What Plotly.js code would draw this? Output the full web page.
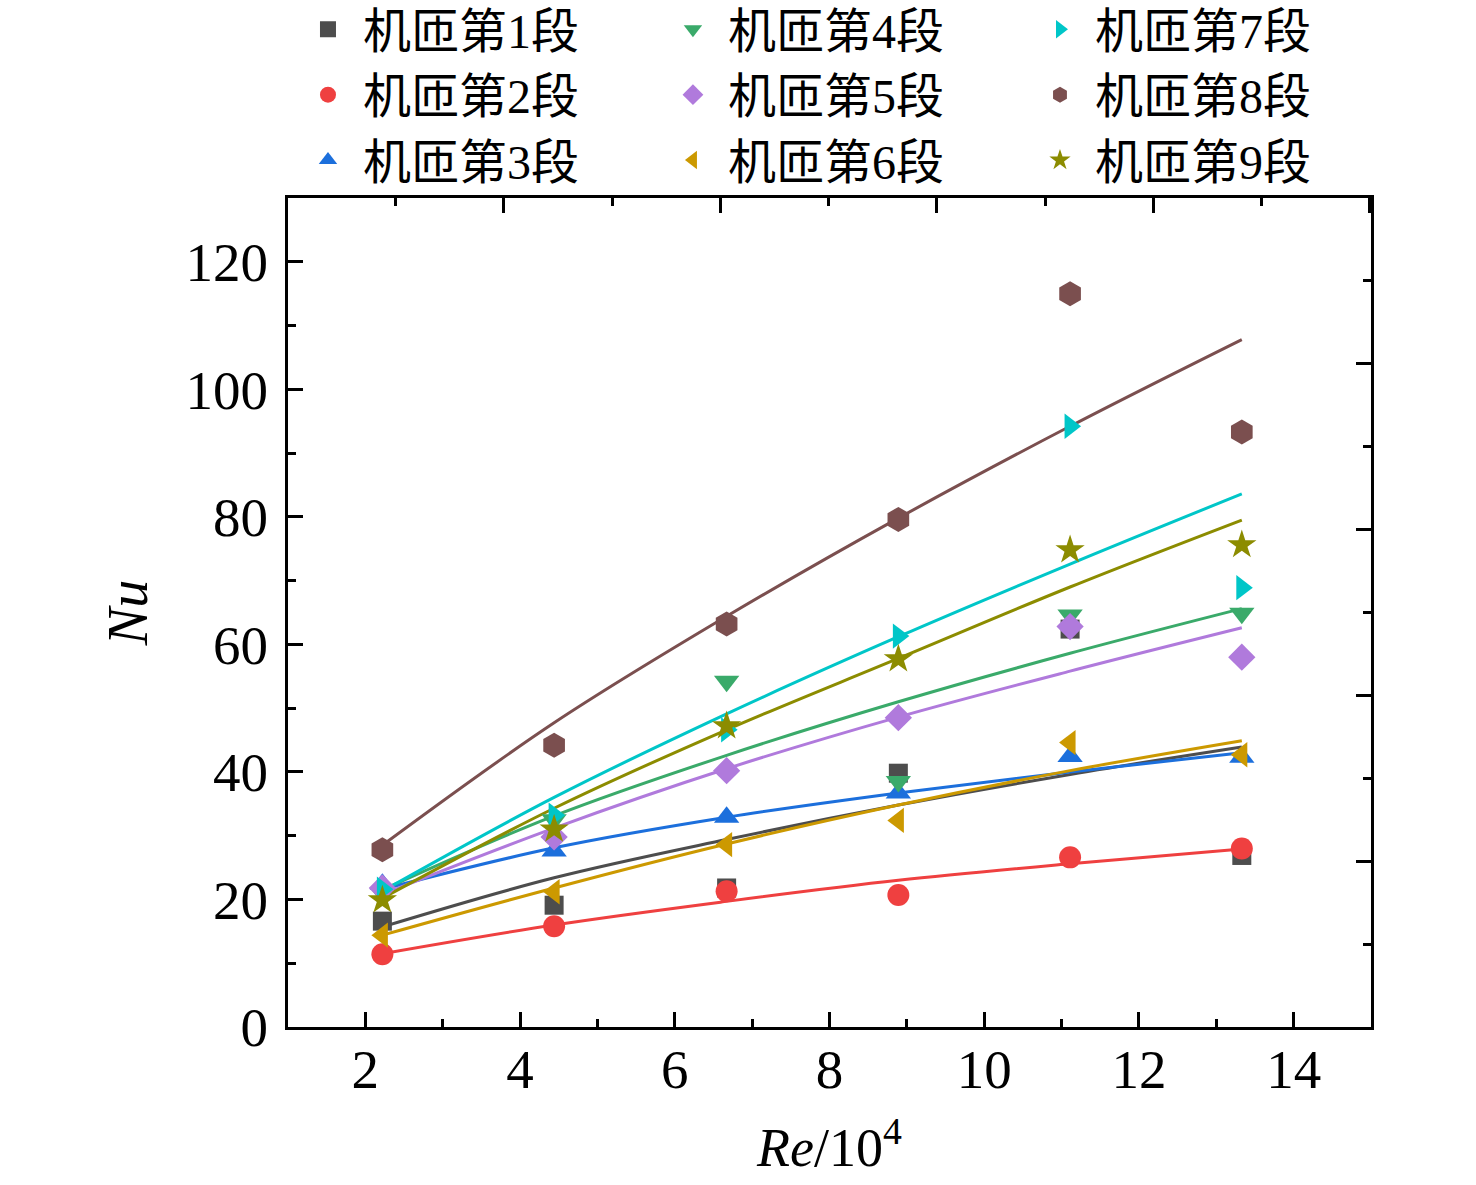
<!DOCTYPE html>
<html>
<head>
<meta charset="utf-8">
<script src="https://cdn.plot.ly/plotly-3.0.1.min.js"></script>
<style>html,body{margin:0;padding:0;background:#fff;}#chart{width:1476px;height:1185px;}</style>
</head>
<body>
<div id="chart"></div>
<script>
// Re/10^4 positions
const reValues = [2.22, 4.44, 6.67, 8.89, 11.11, 13.33];

// measured Nu per section
const nu1 = [16.6, 19.1, 21.8, 39.8, 62.4, 26.9];
const nu2 = [11.4, 15.8, 21.3, 20.7, 26.6, 28.0];
const nu3 = [22.4, 27.6, 32.9, 36.7, 42.4, 42.3];
const nu4 = [21.0, 32.5, 54.2, 38.5, 64.6, 64.9];
const nu5 = [21.8, 29.8, 40.2, 48.5, 62.8, 58.0];
const nu6 = [14.4, 21.2, 28.6, 32.4, 44.6, 42.7];
const nu7 = [21.6, 33.2, 46.6, 61.3, 94.2, 68.9];
const nu8 = [27.8, 44.2, 63.2, 79.6, 115.0, 93.3];
const nu9 = [19.9, 31.0, 47.2, 57.7, 74.8, 75.6];

// fitted curves
const fit1 = [15.7, 23.4, 29.4, 34.8, 39.6, 43.9];
const fit2 = [11.5, 16.0, 19.7, 23.0, 25.6, 27.9];
const fit3 = [21.6, 28.1, 32.9, 36.7, 40.0, 43.0];
const fit4 = [21.5, 33.1, 42.6, 51.0, 58.6, 65.6];
const fit5 = [20.8, 31.2, 40.5, 48.6, 55.8, 62.6];
const fit6 = [14.4, 21.8, 28.7, 34.8, 40.2, 44.9];
const fit7 = [21.3, 36.0, 49.1, 61.2, 72.6, 83.6];
const fit8 = [28.5, 47.7, 64.4, 79.8, 94.2, 107.8];
const fit9 = [20.2, 34.3, 46.6, 57.8, 69.0, 79.5];

const seriesNames = ['机匝第1段','机匝第2段','机匝第3段','机匝第4段','机匝第5段','机匝第6段','机匝第7段','机匝第8段','机匝第9段'];
const xTickVals = [2, 4, 6, 8, 10, 12, 14];
const yTickVals = [0, 20, 40, 60, 80, 100, 120];

const measured = [nu1, nu2, nu3, nu4, nu5, nu6, nu7, nu8, nu9];
const fits = [fit1, fit2, fit3, fit4, fit5, fit6, fit7, fit8, fit9];
const colors = ['#4d4d4d','#ef4040','#1c6fdc','#3aaa6a','#b07adc','#cc9900','#00c6c8','#7b4f4f','#8c8c00'];
const symbols = ['square','circle','triangle-up','triangle-down','diamond','triangle-left','triangle-right','hexagon','star'];
const sizes = [19, 22, 22, 22, 21, 22, 22, 25, 22];
const legendIds = ['legend','legend','legend','legend2','legend2','legend2','legend3','legend3','legend3'];

const traces = [];
fits.forEach((f, i) => {
  traces.push({
    x: reValues, y: f, mode: 'lines', type: 'scatter',
    line: {color: colors[i], width: 3, shape: 'spline'},
    showlegend: false, hoverinfo: 'skip'
  });
});
measured.forEach((m, i) => {
  traces.push({
    x: reValues, y: m, mode: 'markers', type: 'scatter', name: seriesNames[i],
    marker: {color: colors[i], symbol: symbols[i], size: sizes[i], line: {width: 0}},
    legend: legendIds[i]
  });
});
// empty trace so the mirrored top/right axes are drawn
traces.push({x: [], y: [], xaxis: 'x2', yaxis: 'y2', mode: 'markers', type: 'scatter', showlegend: false, hoverinfo: 'skip'});

const tickFont = {family: 'Liberation Serif, Times New Roman, serif', size: 55, color: '#000'};
const legFont = {family: 'Liberation Serif, Noto Sans CJK SC, serif', size: 48, color: '#000'};
function legendAt(x) {
  return {orientation: 'v', x: x, xanchor: 'left', y: 1.249, yanchor: 'top',
          itemwidth: 60, font: legFont, bgcolor: 'rgba(0,0,0,0)', borderwidth: 0, traceorder: 'normal'};
}
const layout = {
  width: 1476, height: 1185,
  margin: {l: 288, r: 105, t: 198, b: 158, autoexpand: false},
  paper_bgcolor: '#fff', plot_bgcolor: '#fff',
  showlegend: true,
  legend: legendAt(0.0046),
  legend2: legendAt(0.3416),
  legend3: legendAt(0.6805),
  xaxis: {
    range: [1, 15], tickvals: xTickVals, ticktext: xTickVals.map(String),
    ticks: 'inside', ticklen: 15, tickwidth: 3, tickcolor: '#000',
    minor: {dtick: 1, tick0: 1, ticks: 'inside', ticklen: 8, tickwidth: 3, tickcolor: '#000', showgrid: false},
    showline: true, linewidth: 3, linecolor: '#000', showgrid: false, zeroline: false,
    tickfont: tickFont, ticklabelstandoff: -8,
    title: {text: '<i>Re</i>/10<sup>4</sup>', font: {family: 'Liberation Serif, serif', size: 54, color: '#000'}, standoff: 30}
  },
  yaxis: {
    range: [0, 130], tickvals: yTickVals, ticktext: yTickVals.map(String),
    ticks: 'inside', ticklen: 15, tickwidth: 3, tickcolor: '#000',
    minor: {dtick: 10, tick0: 0, ticks: 'inside', ticklen: 8, tickwidth: 3, tickcolor: '#000', showgrid: false},
    showline: true, linewidth: 3, linecolor: '#000', showgrid: false, zeroline: false,
    tickfont: tickFont, ticklabelstandoff: 6,
    title: {text: '<i>Nu</i>', font: {family: 'Liberation Serif, serif', size: 56, color: '#000'}, standoff: 20}
  },
  xaxis2: {
    overlaying: 'x', side: 'top', range: [1, 15], anchor: 'y2',
    tick0: 3.791, dtick: 2.798, ticks: 'inside', ticklen: 15, tickwidth: 3, tickcolor: '#000',
    minor: {tick0: 2.392, dtick: 1.399, ticks: 'inside', ticklen: 8, tickwidth: 3, tickcolor: '#000', showgrid: false},
    showticklabels: false, showline: true, linewidth: 3, linecolor: '#000', showgrid: false, zeroline: false
  },
  yaxis2: {
    overlaying: 'y', side: 'right', range: [0, 130], anchor: 'x2',
    tick0: 0, dtick: 26, ticks: 'inside', ticklen: 15, tickwidth: 3, tickcolor: '#000',
    minor: {tick0: 13, dtick: 13, ticks: 'inside', ticklen: 8, tickwidth: 3, tickcolor: '#000', showgrid: false},
    showticklabels: false, showline: true, linewidth: 3, linecolor: '#000', showgrid: false, zeroline: false
  }
};

Plotly.newPlot('chart', traces, layout, {staticPlot: true});
</script>
</body>
</html>
